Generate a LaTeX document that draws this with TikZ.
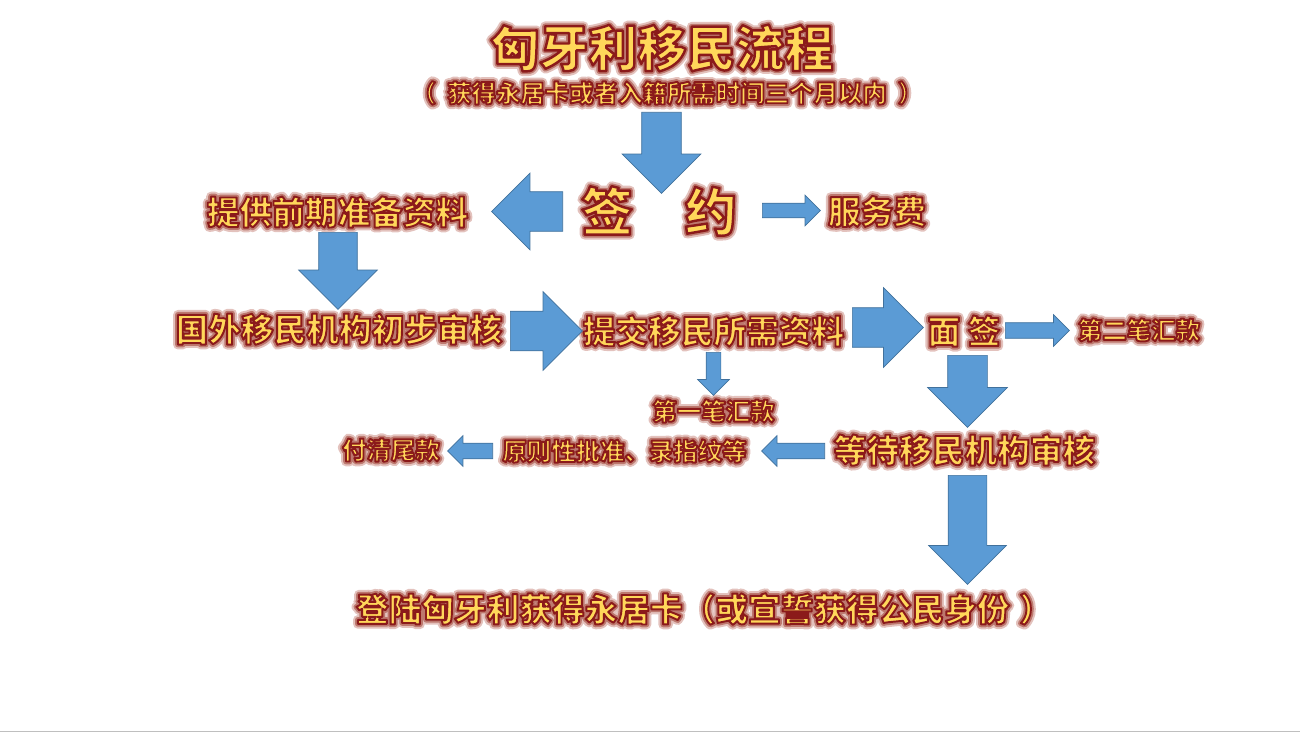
\documentclass[tikz,border=0pt]{standalone}
\usepackage{fontspec}
\usepackage{xcolor}
\usepackage{tikz}
\usetikzlibrary{shapes.arrows,positioning}

\newfontfamily\cjk{Noto Sans CJK SC}
\definecolor{goldtxt}{HTML}{FFD75A}
\definecolor{arrowblue}{HTML}{5B9BD5}
\definecolor{arrowedge}{HTML}{41719C}
% soft red glow, then gold letters with a dark red outline
\newcommand{\outl}[2]{%
  \makebox[0pt][l]{\special{pdf:literal direct 0.89 0.76 0.74 rg 0.89 0.76 0.74 RG 5.5 w 1 j 1 J 2 Tr}#2}%
  \makebox[0pt][l]{\special{pdf:literal direct 0.74 0.47 0.43 rg 0.74 0.47 0.43 RG 3.2 w 1 j 1 J 2 Tr}#2}%
  \special{pdf:literal direct 1 0.843 0.353 rg 0.545 0.102 0.102 RG #1 w 1 j 2 Tr}#2%
  \special{pdf:literal direct 0 Tr}}

\begin{document}
\begin{tikzpicture}[x=0.02cm,y=-0.02cm,
      txt_title/.style={
         inner sep=0pt,
         text=goldtxt,
         font=\cjk\bfseries\fontsize{27.9}{30}\selectfont},
      txt_sign/.style={
         inner sep=0pt,
         text=goldtxt,
         font=\cjk\bfseries\fontsize{29.5}{32}\selectfont},
      txt_mid/.style={
         inner sep=0pt,
         text=goldtxt,
         font=\cjk\bfseries\fontsize{18.6}{20}\selectfont},
      txt_small/.style={
         inner sep=0pt,
         text=goldtxt,
         font=\cjk\bfseries\fontsize{13.9}{15}\selectfont},
      blk_arrow/.style n args={3}{
         single arrow,
         draw=arrowedge,
         fill=arrowblue,
         line width=0.4pt,
         anchor=tail,
         inner xsep=0pt,
         inner ysep=#3*0.01cm,
         minimum height=#1*0.02cm,
         single arrow head extend=(#2-#3)*0.01cm}
]
      \useasboundingbox (0,0) rectangle (1300,733);

      %title
      \node[txt_title] (title) at (662,48) {\outl{1.4}{匈牙利移民流程}};
      \node[txt_small] (subtitle) at (667,93) {\outl{1.1}{（\hspace{0.45em}获得永居卡或者入籍所需时间三个月以内\hspace{0.45em}）}};

      %steps
      \node[txt_sign] (qianyue) at (659,211) {\outl{1.4}{签\quad 约}};
      \node[txt_mid] (tigong) at (337.5,212) {\outl{1.1}{提供前期准备资料}};
      \node[txt_mid] (fuwufei) at (877,211.5) {\outl{1.1}{服务费}};
      \node[txt_mid] (guowai) at (339,329) {\outl{1.1}{国外移民机构初步审核}};
      \node[txt_mid] (tijiao) at (713.5,331) {\outl{1.1}{提交移民所需资料}};
      \node[txt_mid] (mianqian) at (964,331) {\outl{1.1}{面 签}};
      \node[txt_small] (dierbi) at (1139,330) {\outl{1.1}{第二笔汇款}};
      \node[txt_small] (diyibi) at (713.5,411) {\outl{1.1}{第一笔汇款}};
      \node[txt_mid] (dengdai) at (964.5,450) {\outl{1.1}{等待移民机构审核}};
      \node[txt_small] (yuanze) at (624.5,451) {\outl{1.1}{原则性批准、录指纹等}};
      \node[txt_small] (fuqing) at (391,450) {\outl{1.1}{付清尾款}};
      \node[txt_mid] (denglu) at (704,609) {\outl{1.1}{登陆匈牙利获得永居卡（或宣誓获得公民身份\hspace{0.3em}）}};

    \foreach \n/\x/\y/\r/\len/\hw/\sw in {% name/tail x/tail y/rotation/length/head/shaft
      a_sign/661.5/112/-90/81/78/39,
      a_prep/563/211.5/180/71/76/39,
      a_fee/762/210.5/0/58/30/14,
      a_check/338/232/-90/77/78/38,
      a_submit/510/331/0/72/78/39,
      a_interview/852/327.5/0/71/79/39,
      a_second/1005/330.5/0/64/31/15,
      a_first/713.5/352/-90/43/31/14,
      a_wait/967.5/355/-90/72/79/39,
      a_approve/825/451/180/63/30/15,
      a_final/493/451/180/45/30/15,
      a_land/967.5/475/-90/109/77/38}
    \node[blk_arrow={\len}{\hw}{\sw}, rotate=\r] (\n) at (\x,\y) {};

      \draw[black!25, line width=1pt] (0,731.5) -- (1300,731.5);

\end{tikzpicture}
\end{document}
